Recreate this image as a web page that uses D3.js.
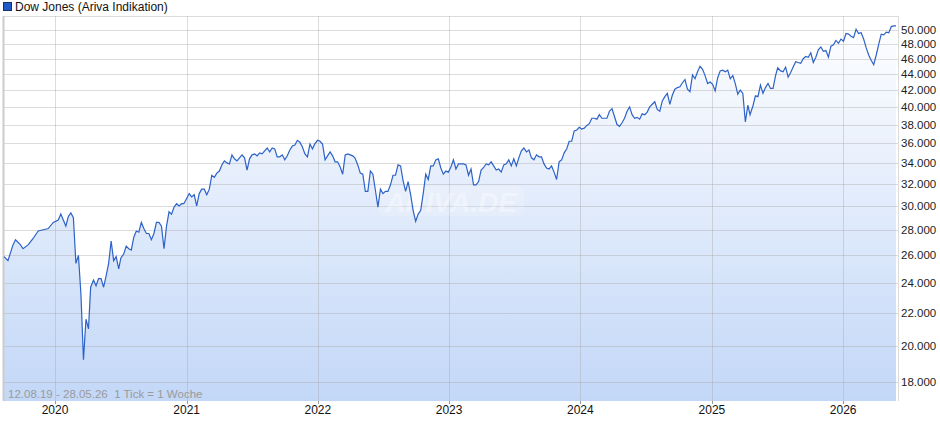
<!DOCTYPE html>
<html>
<head>
<meta charset="utf-8">
<script src="https://cdn.jsdelivr.net/npm/d3@7"></script>
<style>
  body { margin: 0; background: #fff; }
  text { font-family: "Liberation Sans", Arial, sans-serif; }
</style>
</head>
<body>
<div id="canvas"></div>
<script>
/* Chart size */
let svgWidth = 940;
let svgHeight = 435;
let plot = { left: 3, right: 898, top: 16, bottom: 401 };

/* Data: weekly-ish closes (thousands of points) */
let dates = [
  "2019-08-12","2019-08-23","2019-09-06","2019-09-13","2019-09-27","2019-10-04","2019-10-18","2019-11-01","2019-11-15","2019-11-29",
  "2019-12-13","2019-12-27","2020-01-10","2020-01-17","2020-01-31","2020-02-07","2020-02-14","2020-02-21","2020-02-28","2020-03-06",
  "2020-03-13","2020-03-20","2020-03-27","2020-04-03","2020-04-09","2020-04-17","2020-04-24","2020-05-01","2020-05-08","2020-05-15",
  "2020-05-22","2020-05-29","2020-06-05","2020-06-12","2020-06-19","2020-06-26","2020-07-02","2020-07-10","2020-07-17","2020-07-24",
  "2020-07-31","2020-08-07","2020-08-14","2020-08-21","2020-08-28","2020-09-04","2020-09-11","2020-09-18","2020-09-25","2020-10-02",
  "2020-10-09","2020-10-16","2020-10-23","2020-10-30","2020-11-06","2020-11-13","2020-11-20","2020-11-27","2020-12-04","2020-12-11",
  "2020-12-18","2020-12-24","2020-12-31","2021-01-08","2021-01-15","2021-01-22","2021-01-29","2021-02-05","2021-02-12","2021-02-19",
  "2021-02-26","2021-03-05","2021-03-12","2021-03-19","2021-03-26","2021-04-02","2021-04-09","2021-04-16","2021-04-23","2021-04-30",
  "2021-05-07","2021-05-14","2021-05-21","2021-05-28","2021-06-04","2021-06-11","2021-06-18","2021-06-25","2021-07-02","2021-07-09",
  "2021-07-16","2021-07-23","2021-07-30","2021-08-06","2021-08-13","2021-08-20","2021-08-27","2021-09-03","2021-09-10","2021-09-17",
  "2021-09-24","2021-10-01","2021-10-08","2021-10-15","2021-10-22","2021-10-29","2021-11-05","2021-11-12","2021-11-19","2021-11-26",
  "2021-12-03","2021-12-10","2021-12-17","2021-12-23","2021-12-31","2022-01-07","2022-01-14","2022-01-21","2022-01-28","2022-02-04",
  "2022-02-11","2022-02-18","2022-02-25","2022-03-04","2022-03-11","2022-03-18","2022-03-25","2022-04-01","2022-04-08","2022-04-14",
  "2022-04-22","2022-04-29","2022-05-06","2022-05-13","2022-05-20","2022-05-27","2022-06-03","2022-06-10","2022-06-17","2022-06-24",
  "2022-07-01","2022-07-08","2022-07-15","2022-07-22","2022-07-29","2022-08-05","2022-08-12","2022-08-19","2022-08-26","2022-09-02",
  "2022-09-09","2022-09-16","2022-09-23","2022-09-30","2022-10-07","2022-10-14","2022-10-21","2022-10-28","2022-11-04","2022-11-11",
  "2022-11-18","2022-11-25","2022-12-02","2022-12-09","2022-12-16","2022-12-23","2022-12-30","2023-01-06","2023-01-13","2023-01-20",
  "2023-01-27","2023-02-03","2023-02-10","2023-02-17","2023-02-24","2023-03-03","2023-03-10","2023-03-17","2023-03-24","2023-03-31",
  "2023-04-06","2023-04-14","2023-04-21","2023-04-28","2023-05-05","2023-05-12","2023-05-19","2023-05-26","2023-06-02","2023-06-09",
  "2023-06-16","2023-06-23","2023-06-30","2023-07-07","2023-07-14","2023-07-21","2023-07-28","2023-08-04","2023-08-11","2023-08-18",
  "2023-08-25","2023-09-01","2023-09-08","2023-09-15","2023-09-22","2023-09-29","2023-10-06","2023-10-13","2023-10-20","2023-10-27",
  "2023-11-03","2023-11-10","2023-11-17","2023-11-24","2023-12-01","2023-12-08","2023-12-15","2023-12-22","2023-12-29","2024-01-05",
  "2024-01-12","2024-01-19","2024-01-26","2024-02-02","2024-02-09","2024-02-16","2024-02-23","2024-03-01","2024-03-08","2024-03-15",
  "2024-03-22","2024-03-29","2024-04-05","2024-04-12","2024-04-19","2024-04-26","2024-05-03","2024-05-10","2024-05-17","2024-05-24",
  "2024-05-31","2024-06-07","2024-06-14","2024-06-21","2024-06-28","2024-07-05","2024-07-12","2024-07-19","2024-07-26","2024-08-02",
  "2024-08-09","2024-08-16","2024-08-23","2024-08-30","2024-09-06","2024-09-13","2024-09-20","2024-09-27","2024-10-04","2024-10-11",
  "2024-10-18","2024-10-25","2024-11-01","2024-11-08","2024-11-15","2024-11-22","2024-11-29","2024-12-06","2024-12-13","2024-12-20",
  "2024-12-27","2025-01-03","2025-01-10","2025-01-17","2025-01-24","2025-01-31","2025-02-07","2025-02-14","2025-02-21","2025-02-28",
  "2025-03-07","2025-03-14","2025-03-21","2025-03-28","2025-04-04","2025-04-11","2025-04-17","2025-04-25","2025-05-02","2025-05-09",
  "2025-05-16","2025-05-23","2025-05-30","2025-06-06","2025-06-13","2025-06-20","2025-06-27","2025-07-03","2025-07-11","2025-07-18",
  "2025-07-25","2025-08-01","2025-08-08","2025-08-15","2025-08-22","2025-08-29","2025-09-05","2025-09-12","2025-09-19","2025-09-26",
  "2025-10-03","2025-10-10","2025-10-17","2025-10-24","2025-10-31","2025-11-07","2025-11-14","2025-11-21","2025-11-28","2025-12-05",
  "2025-12-12","2025-12-19","2025-12-26","2026-01-02","2026-01-09","2026-01-16","2026-01-23","2026-01-30","2026-02-06","2026-02-13",
  "2026-02-20","2026-02-27","2026-03-06","2026-03-13","2026-03-20","2026-03-27","2026-04-03","2026-04-10","2026-04-17","2026-04-24",
  "2026-05-01","2026-05-08","2026-05-15","2026-05-22","2026-05-28"
];
let values = [
  25.9,25.6,26.8,27.2,26.8,26.5,26.8,27.3,27.9,28.0,
  28.1,28.6,28.8,29.3,28.3,29.1,29.4,29.0,25.4,26.0,
  23.2,19.2,21.6,21.0,23.7,24.2,23.8,24.3,24.3,23.7,
  24.5,25.4,27.1,25.6,25.9,25.0,25.8,26.1,26.7,26.5,
  26.4,27.4,27.9,27.8,28.6,28.1,27.7,27.7,27.2,27.7,
  28.6,28.6,28.3,26.5,28.3,29.5,29.3,29.9,30.2,30.0,
  30.2,30.2,30.6,31.1,30.8,31.0,30.0,31.1,31.5,31.5,
  31.0,31.5,32.8,32.6,33.0,33.2,33.8,34.2,34.0,33.9,
  34.8,34.4,34.2,34.5,34.8,34.5,33.3,34.4,34.8,34.9,
  34.7,35.0,34.9,35.2,35.5,35.1,35.5,35.4,34.6,34.6,
  34.8,34.3,34.7,35.3,35.7,35.8,36.3,36.1,35.6,34.9,
  34.6,35.9,35.4,35.9,36.3,36.2,35.9,34.3,34.7,35.1,
  34.7,34.1,34.1,33.6,32.9,34.8,34.9,34.8,34.7,34.5,
  33.8,33.0,32.9,31.3,31.3,33.2,32.9,31.4,29.9,31.5,
  31.1,31.3,31.3,31.9,32.8,32.8,33.8,33.7,32.3,31.3,
  32.2,31.0,29.6,28.7,29.3,29.6,31.1,32.9,32.4,33.7,
  33.7,34.3,34.4,33.5,32.9,33.2,33.1,33.6,34.3,33.4,
  33.9,33.9,33.9,33.8,32.8,33.4,31.9,31.9,32.2,33.3,
  33.5,33.9,33.8,34.1,33.7,33.3,33.4,33.1,33.8,33.9,
  34.3,33.7,34.4,33.7,34.5,35.2,35.5,35.1,35.3,34.5,
  34.3,34.8,34.6,34.6,33.9,33.5,33.4,33.7,33.1,32.4,
  34.1,34.3,35.0,35.4,36.2,36.2,37.3,37.4,37.7,37.5,
  37.6,37.9,38.1,38.7,38.7,38.6,39.1,38.7,38.7,38.7,
  39.5,39.8,38.9,38.0,37.8,38.2,38.7,39.5,40.0,39.1,
  38.7,38.8,38.6,39.2,39.1,39.4,40.0,40.3,40.6,39.7,
  39.5,40.7,41.2,41.6,40.3,41.4,42.1,42.3,42.4,42.9,
  43.3,42.1,41.8,43.9,43.4,44.3,45.0,44.6,43.8,42.8,
  43.0,42.7,41.9,43.5,44.4,44.5,44.3,44.5,43.4,43.8,
  42.8,41.5,42.0,41.6,38.3,40.2,39.1,40.1,41.3,41.2,
  42.6,41.6,42.3,42.8,42.2,42.2,43.8,44.8,44.4,44.3,
  44.9,43.6,44.2,44.9,45.6,45.5,45.4,46.0,46.3,46.2,
  46.8,45.5,46.2,47.2,47.6,47.0,47.1,46.2,47.7,47.9,
  48.5,48.1,48.7,48.4,49.5,49.4,49.1,48.9,50.1,49.5,
  49.6,48.7,47.5,46.5,45.8,45.2,46.5,48.0,49.4,49.3,
  49.7,49.6,50.5,50.6,50.6
];
let yTicks = [18, 20, 22, 24, 26, 28, 30, 32, 34, 36, 38, 40, 42, 44, 46, 48, 50];
let xTicks = ["2020-01-01","2021-01-01","2022-01-01","2023-01-01","2024-01-01","2025-01-01","2026-01-01"];

let parse = d3.timeParse("%Y-%m-%d");
let series = dates.map((d, i) => ({ date: parse(d), value: values[i] }));

let svg = d3.select("#canvas").append("svg")
    .attr("width", svgWidth).attr("height", svgHeight);

let xScale = d3.scaleTime()
    .domain([parse("2019-08-12"), parse("2026-05-28")])
    .range([plot.left + 1, plot.right - 2]);

// log scale: tick spacing shrinks towards the top
let yScale = d3.scaleLog()
    .domain([17.035, 52.07])
    .range([plot.bottom, plot.top]);

let defs = svg.append("defs");
let grad = defs.append("linearGradient")
    .attr("id", "fillGrad").attr("gradientUnits", "userSpaceOnUse")
    .attr("x1", 0).attr("x2", 0).attr("y1", plot.top).attr("y2", plot.bottom);
grad.append("stop").attr("offset", "0%").attr("stop-color", "#ffffff");
grad.append("stop").attr("offset", "100%").attr("stop-color", "#b8d0f6");

// area first, grid shows through on top
let area = d3.area()
    .x(d => xScale(d.date)).y0(plot.bottom).y1(d => yScale(d.value));
svg.append("path").datum(series)
    .attr("d", area).attr("fill", "url(#fillGrad)").attr("opacity", 0.85);

// grid
let gridColor = "#a8a8a8";
let gridOpacity = 0.4;
svg.selectAll(".hgrid").data(yTicks).enter().append("line")
    .attr("x1", plot.left).attr("x2", plot.right)
    .attr("y1", d => Math.round(yScale(d)) + 0.5).attr("y2", d => Math.round(yScale(d)) + 0.5)
    .attr("stroke", gridColor).attr("stroke-opacity", gridOpacity);
svg.append("line").attr("x1", plot.left).attr("x2", plot.right)
    .attr("y1", plot.top + 0.5).attr("y2", plot.top + 0.5)
    .attr("stroke", gridColor).attr("stroke-opacity", gridOpacity);
svg.selectAll(".vgrid").data(xTicks).enter().append("line")
    .attr("x1", d => Math.round(xScale(parse(d))) + 0.5).attr("x2", d => Math.round(xScale(parse(d))) + 0.5)
    .attr("y1", plot.top).attr("y2", plot.bottom)
    .attr("stroke", gridColor).attr("stroke-opacity", gridOpacity);
svg.append("line").attr("x1", plot.left + 0.5).attr("x2", plot.left + 0.5)
    .attr("y1", plot.top).attr("y2", plot.bottom).attr("stroke", "#cccccc").attr("stroke-width", 2);
svg.append("line").attr("x1", plot.right + 0.5).attr("x2", plot.right + 0.5)
    .attr("y1", plot.top).attr("y2", plot.bottom)
    .attr("stroke", gridColor).attr("stroke-opacity", gridOpacity);

// watermark
svg.append("rect").attr("x", 378).attr("y", 186).attr("width", 146).attr("height", 30)
    .attr("rx", 6).attr("fill", "#ffffff").attr("opacity", 0.18);
svg.append("text").attr("x", 451).attr("y", 212).attr("text-anchor", "middle")
    .attr("font-size", 28).attr("font-style", "italic").attr("font-weight", "bold")
    .attr("fill", "#ffffff").attr("opacity", 0.35).text("ARIVA.DE");

let line = d3.line().x(d => xScale(d.date)).y(d => yScale(d.value));
svg.append("path").datum(series)
    .attr("d", line).attr("fill", "none")
    .attr("stroke", "#2d62c8").attr("stroke-width", 1.2);

// axes labels
svg.selectAll(".ylab").data(yTicks).enter().append("text")
    .attr("x", 901).attr("y", d => yScale(d) + 4)
    .attr("font-size", 11.5).attr("fill", "#222")
    .text(d => d3.format(",")(d * 1000).replace(",", "."));
svg.selectAll(".xlab").data(xTicks).enter().append("text")
    .attr("x", d => xScale(parse(d))).attr("y", 414)
    .attr("text-anchor", "middle").attr("font-size", 12).attr("fill", "#111")
    .text(d => d.slice(0, 4));
svg.selectAll(".xtick").data(xTicks).enter().append("line")
    .attr("x1", d => Math.round(xScale(parse(d))) + 0.5).attr("x2", d => Math.round(xScale(parse(d))) + 0.5)
    .attr("y1", plot.bottom).attr("y2", plot.bottom + 3).attr("stroke", "#999");

svg.append("text").attr("x", 8).attr("y", 398)
    .attr("font-size", 11.5).attr("fill", "#9a9a9a")
    .attr("xml:space", "preserve")
    .text("12.08.19 - 28.05.26  1 Tick = 1 Woche");

// legend
svg.append("rect").attr("x", 3.5).attr("y", 2.5).attr("width", 8).attr("height", 8)
    .attr("fill", "#1f5bc8").attr("stroke", "#1a2f66");
svg.append("text").attr("x", 15).attr("y", 11).attr("font-size", 12).attr("fill", "#111")
    .text("Dow Jones (Ariva Indikation)");
</script>
</body>
</html>
